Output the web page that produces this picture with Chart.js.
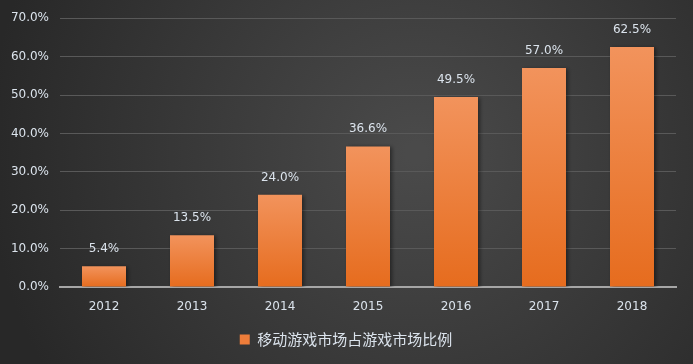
<!DOCTYPE html>
<html><head><meta charset="utf-8">
<script src="https://cdn.jsdelivr.net/npm/chart.js@4/dist/chart.umd.min.js"></script>
<style>html,body{margin:0;padding:0;background:#333;}#wrap{width:693px;height:364px;position:relative;}</style>
</head><body><div id="wrap"><canvas id="c" width="693" height="364"></canvas></div>
<script>
const categories = ['2012','2013','2014','2015','2016','2017','2018'];
const shareValues = [5.4, 13.5, 24.0, 36.6, 49.5, 57.0, 62.5];
const seriesName = '移动游戏市场占游戏市场比例';
const yTicks = [0,10,20,30,40,50,60,70];
const textColor = '#dbe3ec';

const bgPlugin = {
  id: 'bg',
  beforeDraw(chart){
    const {ctx,width,height} = chart;
    const g = ctx.createRadialGradient(width*0.6, height*0.42, 10, width*0.6, height*0.42, width*0.62);
    g.addColorStop(0,'#4a4a4a');
    g.addColorStop(1,'#282828');
    ctx.save(); ctx.fillStyle=g; ctx.fillRect(0,0,width,height); ctx.restore();
  }
};
const legendShift = {
  id:'legendShift',
  afterLayout(chart){ if(chart.legend){ chart.legend.left = 16; chart.legend.right = 676; } }
};
const shadowPlugin = {
  id:'shadow',
  beforeDatasetDraw(chart){ const c=chart.ctx; c.save(); c.shadowColor='rgba(0,0,0,0.45)'; c.shadowBlur=4; c.shadowOffsetX=2; c.shadowOffsetY=1; },
  afterDatasetDraw(chart){ chart.ctx.restore(); }
};
const labelPlugin = {
  id:'labels',
  afterDatasetsDraw(chart){
    const {ctx} = chart;
    const meta = chart.getDatasetMeta(0);
    ctx.save();
    ctx.fillStyle=textColor; ctx.font='12px "DejaVu Sans", sans-serif';
    ctx.textAlign='center'; ctx.textBaseline='alphabetic';
    meta.data.forEach((el,i)=>{ ctx.fillText(shareValues[i].toFixed(1)+'%', el.x, el.y-14); });
    ctx.restore();
  }
};
new Chart(document.getElementById('c'), {
  type:'bar',
  data:{ labels:categories, datasets:[{
    label:seriesName, data:shareValues,
    backgroundColor(ctx){
      const chart=ctx.chart; const y=chart.scales.y;
      if(!y || ctx.parsed===undefined || !chart.chartArea) return '#ee7d3a';
      const top=y.getPixelForValue(ctx.parsed.y), bot=y.getPixelForValue(0);
      if(!isFinite(top)||top===bot) return '#ee7d3a';
      const g=chart.ctx.createLinearGradient(0,top,0,bot);
      g.addColorStop(0,'#f2935c'); g.addColorStop(1,'#e66c1e');
      return g;
    },
    barPercentage:0.5, categoryPercentage:1.0, borderWidth:0
  }]},
  options:{
    responsive:false, animation:false, devicePixelRatio:1,
    layout:{padding:{top:18,right:17,bottom:7,left:0}},
    plugins:{
      legend:{position:'bottom', labels:{color:textColor, boxWidth:10, boxHeight:10, padding:10,
        font:{size:15, family:'"Noto Sans CJK SC", sans-serif'},
        generateLabels(chart){ return [{text:seriesName, fillStyle:'#ee7d3a', strokeStyle:'#ee7d3a', lineWidth:0, fontColor:textColor, datasetIndex:0}]; }
      }},
      tooltip:{enabled:false}
    },
    scales:{
      x:{ grid:{display:false, drawTicks:false}, border:{color:'#a6a6a6', width:2},
        ticks:{color:textColor, padding:13, font:{size:12, family:'"DejaVu Sans", sans-serif'}},
        afterFit(s){ s.height=35; } },
      y:{ min:0, max:70, afterBuildTicks(s){ s.ticks = yTicks.map(v=>({value:v})); },
        grid:{color:'#595959', lineWidth:1, drawTicks:false}, border:{display:false},
        ticks:{color:textColor, padding:11, font:{size:12, family:'"DejaVu Sans", sans-serif'}, callback:v=>v.toFixed(1)+'%'},
        afterFit(s){ s.width=60; } }
    }
  },
  plugins:[bgPlugin, legendShift, shadowPlugin, labelPlugin]
});
</script></body></html>
